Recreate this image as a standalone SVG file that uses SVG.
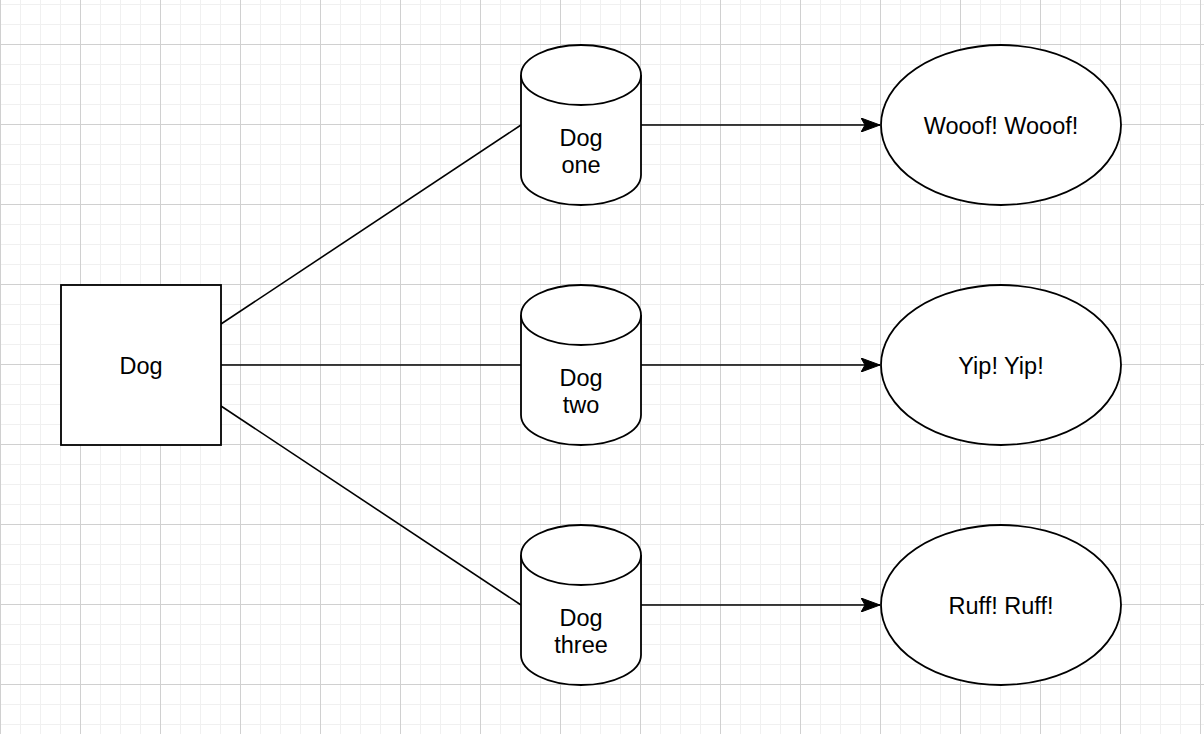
<svg xmlns="http://www.w3.org/2000/svg" width="1204" height="734" viewBox="0 0 1204 734">
  <defs>
    <pattern id="minor" patternUnits="userSpaceOnUse" x="0" y="4" width="20" height="20">
      <path d="M0.5,0 V20 M0,0.5 H20" stroke="#f0f0f0" stroke-width="1" fill="none"/>
    </pattern>
    <pattern id="major" patternUnits="userSpaceOnUse" x="0" y="44" width="80" height="80">
      <path d="M0.5,0 V80 M0,0.5 H80" stroke="#d0d0d0" stroke-width="1" fill="none"/>
    </pattern>
    <marker id="arrow" viewBox="0 0 20 14" refX="19" refY="7" markerWidth="20" markerHeight="14" markerUnits="userSpaceOnUse" orient="auto">
      <path d="M0,0 L19,7 L0,14 L4,7 Z" fill="#000" stroke="#000" stroke-width="1"/>
    </marker>
    <style>
      .shape { fill: #fff; stroke: #000; stroke-width: 1.8; }
      .conn { fill: none; stroke: #000; stroke-width: 1.6; }
      .lbl { font-family: "Liberation Sans", Arial, sans-serif; font-size: 23.5px; fill: #000; text-anchor: middle; }
    </style>
  </defs>
  <rect width="1204" height="734" fill="#fff"/>
  <rect width="1204" height="734" fill="url(#minor)"/>
  <rect width="1204" height="734" fill="url(#major)"/>

  <g id="connectors">
    <line class="conn" x1="221" y1="324" x2="521" y2="125"/>
    <line class="conn" x1="221" y1="365" x2="521" y2="365"/>
    <line class="conn" x1="221" y1="406" x2="521" y2="605"/>
    <line class="conn" x1="641" y1="125" x2="880" y2="125" marker-end="url(#arrow)"/>
    <line class="conn" x1="641" y1="365" x2="880" y2="365" marker-end="url(#arrow)"/>
    <line class="conn" x1="641" y1="605" x2="880" y2="605" marker-end="url(#arrow)"/>
  </g>

  <g id="dog">
    <rect class="shape" x="61" y="285" width="160" height="160"/>
    <text class="lbl" x="141" y="374">Dog</text>
  </g>

  <g id="dog-one">
    <path class="shape" d="M521,75 A60,30 0 0 1 641,75 V175 A60,30 0 0 1 521,175 Z"/>
    <path class="shape" fill="none" d="M521,75 A60,30 0 0 0 641,75"/>
    <text class="lbl" x="581" y="146">Dog</text>
    <text class="lbl" x="581" y="173">one</text>
  </g>

  <g id="dog-two">
    <path class="shape" d="M521,315 A60,30 0 0 1 641,315 V415 A60,30 0 0 1 521,415 Z"/>
    <path class="shape" fill="none" d="M521,315 A60,30 0 0 0 641,315"/>
    <text class="lbl" x="581" y="386">Dog</text>
    <text class="lbl" x="581" y="413">two</text>
  </g>

  <g id="dog-three">
    <path class="shape" d="M521,555 A60,30 0 0 1 641,555 V655 A60,30 0 0 1 521,655 Z"/>
    <path class="shape" fill="none" d="M521,555 A60,30 0 0 0 641,555"/>
    <text class="lbl" x="581" y="626">Dog</text>
    <text class="lbl" x="581" y="653">three</text>
  </g>

  <g id="wooof">
    <ellipse class="shape" cx="1001" cy="125" rx="120" ry="80"/>
    <text class="lbl" x="1001" y="134">Wooof! Wooof!</text>
  </g>

  <g id="yip">
    <ellipse class="shape" cx="1001" cy="365" rx="120" ry="80"/>
    <text class="lbl" x="1001" y="374">Yip! Yip!</text>
  </g>

  <g id="ruff">
    <ellipse class="shape" cx="1001" cy="605" rx="120" ry="80"/>
    <text class="lbl" x="1001" y="614">Ruff! Ruff!</text>
  </g>
</svg>
